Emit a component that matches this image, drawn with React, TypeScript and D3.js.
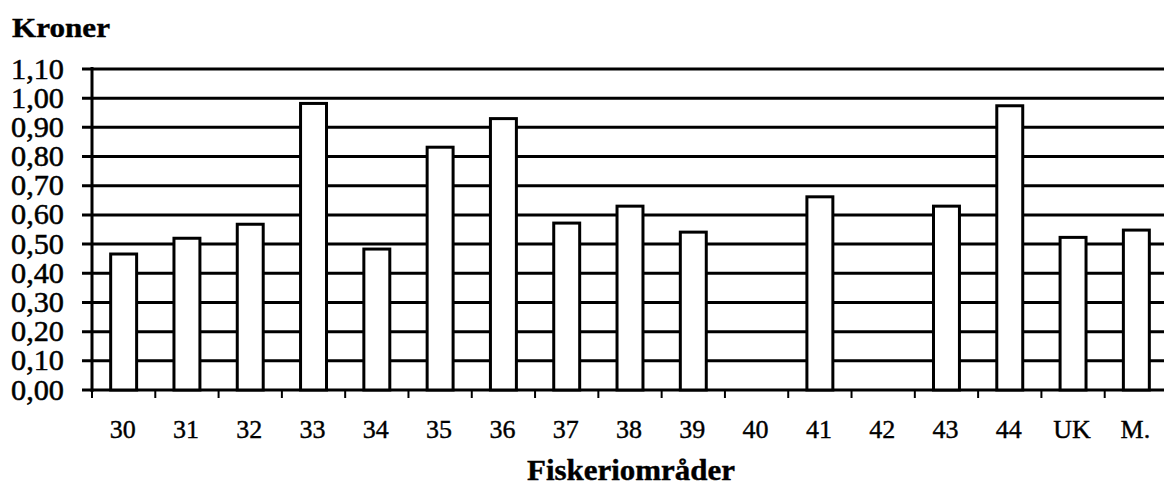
import React from "react";
import * as d3 from "d3";

const categories = ["30","31","32","33","34","35","36","37","38","39","40","41","42","43","44","UK","M."];
const values: (number | null)[] = [0.466,0.52,0.568,0.982,0.483,0.832,0.93,0.572,0.63,0.541,null,0.662,null,0.63,0.974,0.523,0.548];
const yTicks = [0,0.1,0.2,0.3,0.4,0.5,0.6,0.7,0.8,0.9,1.0,1.1];
const yTitle = "Kroner";
const xTitle = "Fiskeriområder";

const W = 1164, H = 494;
const left = 92, right = 1168, top = 69, bottom = 390;

export default function App() {
  const x = d3.scaleBand<string>().domain(categories).range([left, right]).paddingInner(0.59).paddingOuter(0.295);
  const xs = d3.scaleBand<string>().domain(categories).range([left, right]);
  const y = d3.scaleLinear().domain([0, 1.1]).range([bottom, top]);
  const fmt = (v: number) => v.toFixed(2).replace(".", ",");
  const font = "'Liberation Serif', 'Times New Roman', serif";
  return (
    <svg width={W} height={H} style={{ position: "absolute", left: 0, top: 0, background: "#fff" }}>
      <text x={12} y={37} fontFamily={font} fontWeight="bold" fontSize={28} textLength={98} lengthAdjust="spacingAndGlyphs" stroke="#000" strokeWidth={0.4}>{yTitle}</text>
      {yTicks.map((t) => (
        <g key={t}>
          <line x1={left - 10} x2={right} y1={y(t)} y2={y(t)} stroke="#000" strokeWidth={3} />
          <text x={64} y={y(t) + 9.5} textAnchor="end" fontFamily={font} fontSize={28.5} textLength={53} lengthAdjust="spacingAndGlyphs" stroke="#000" strokeWidth={0.5}>{fmt(t)}</text>
        </g>
      ))}
      <line x1={left} x2={left} y1={top - 2} y2={bottom + 2} stroke="#000" strokeWidth={3} />
      {categories.map((c) => (
        <line key={"t" + c} x1={xs(c)!} x2={xs(c)!} y1={bottom} y2={bottom + 8} stroke="#000" strokeWidth={2} />
      ))}
      {categories.map((c, i) => {
        const v = values[i];
        if (v == null) return null;
        return (
          <rect key={"b" + c} x={x(c)!} y={y(v)} width={x.bandwidth()} height={y(0) - y(v)} fill="#fff" stroke="#000" strokeWidth={3} />
        );
      })}
      {categories.map((c) => (
        <text key={"l" + c} x={xs(c)! + xs.bandwidth() / 2 - 1} y={438} textAnchor="middle" fontFamily={font} fontSize={26} stroke="#000" strokeWidth={0.4}>{c}</text>
      ))}
      <text x={631} y={480} textAnchor="middle" fontFamily={font} fontWeight="bold" fontSize={29} textLength={208} lengthAdjust="spacingAndGlyphs" stroke="#000" strokeWidth={0.4}>{xTitle}</text>
    </svg>
  );
}
